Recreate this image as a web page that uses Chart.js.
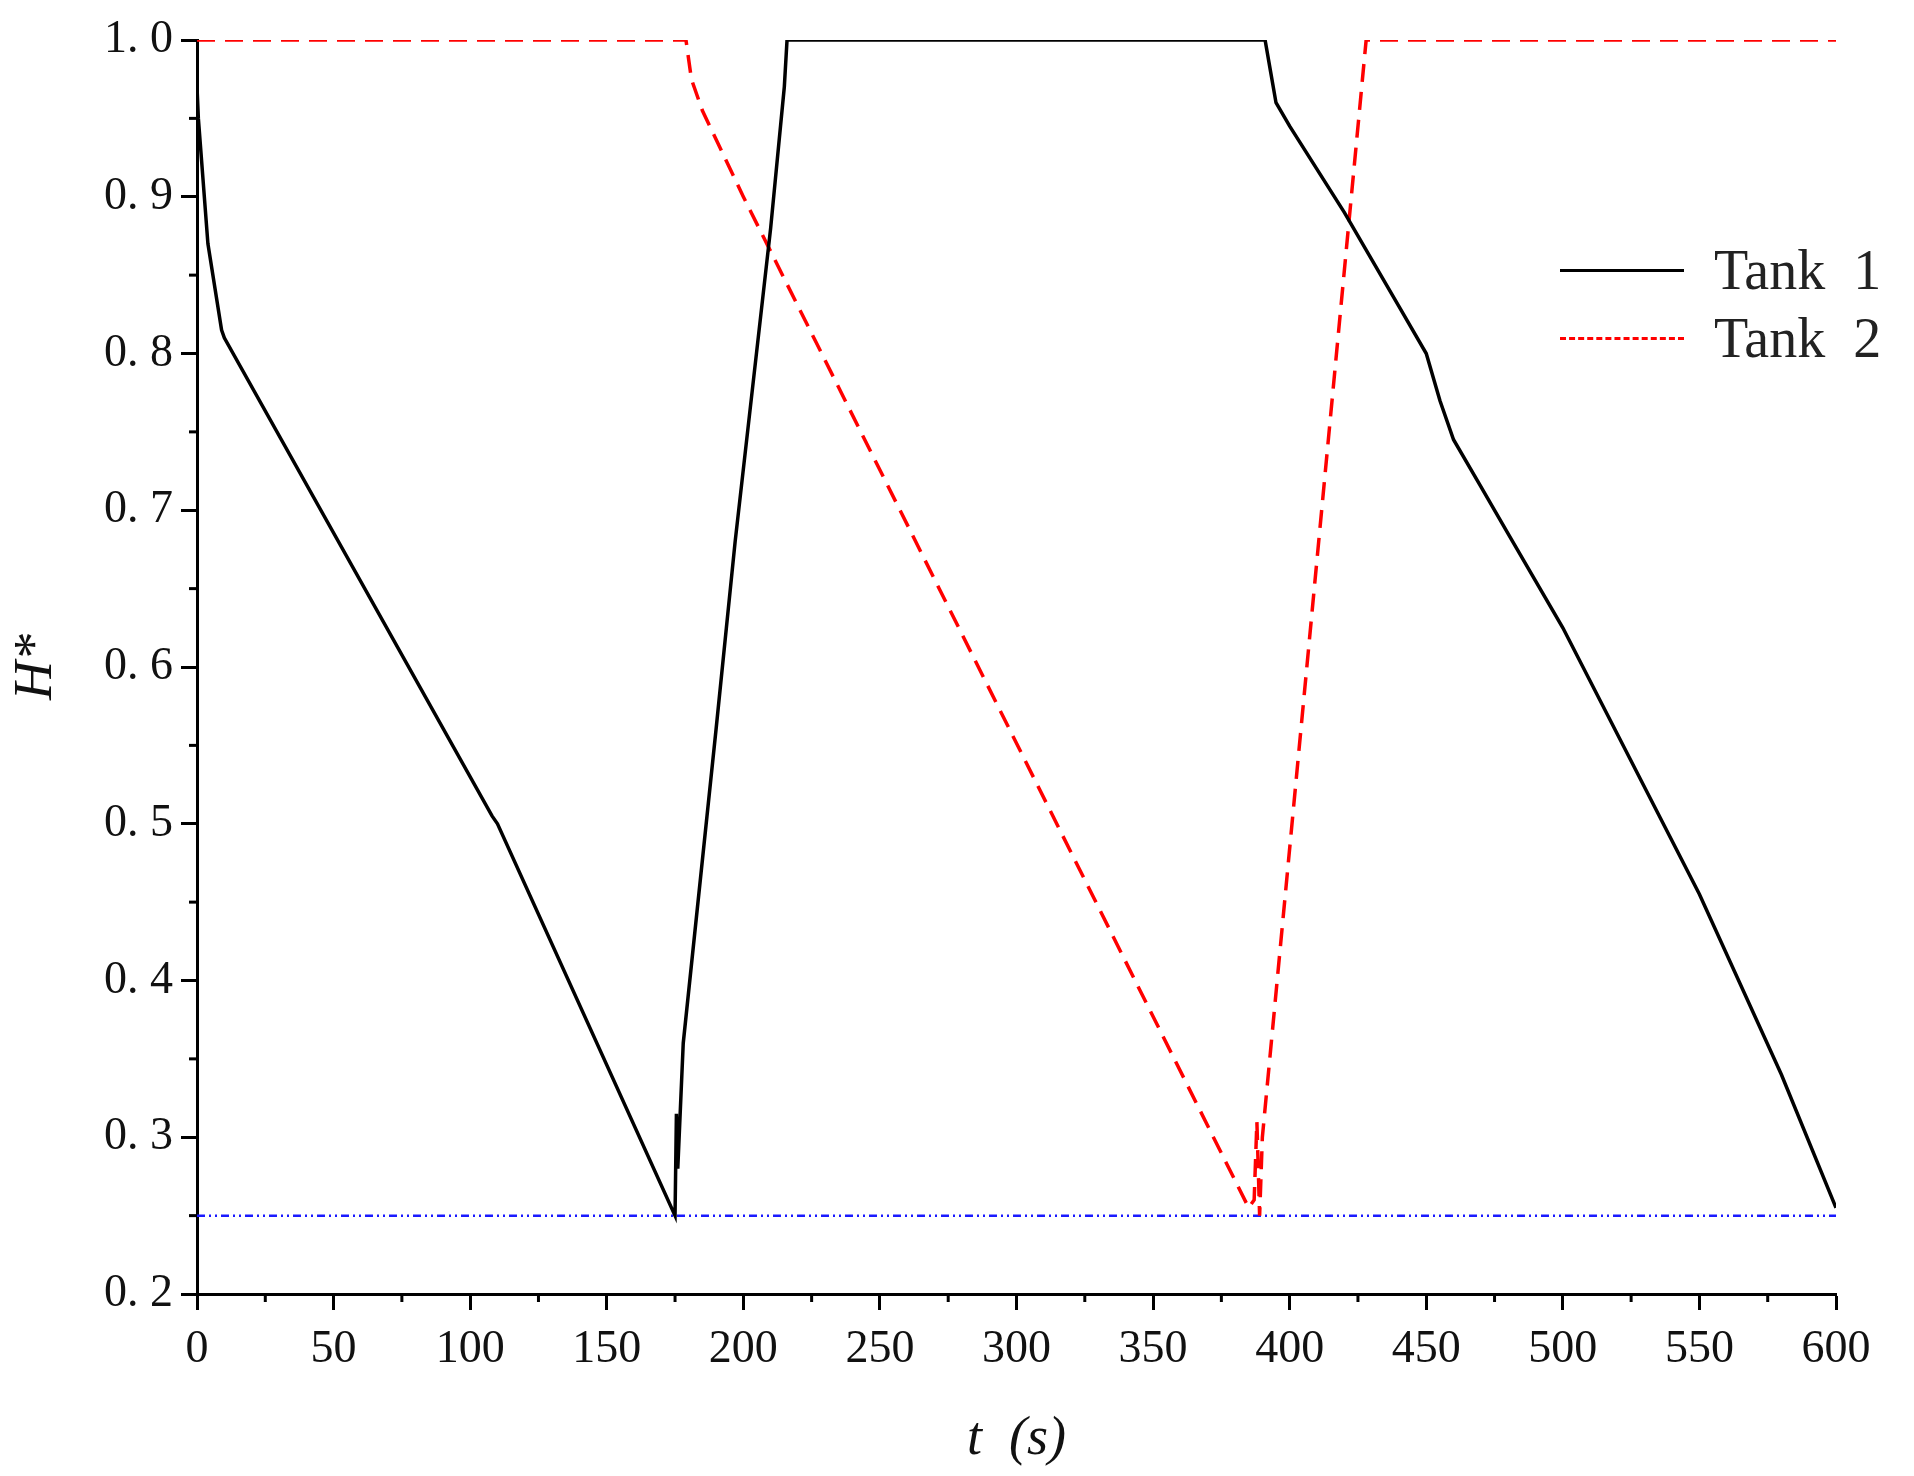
<!DOCTYPE html>
<html><head><meta charset="utf-8">
<script src="https://cdn.jsdelivr.net/npm/chart.js@4/dist/chart.umd.min.js"></script>
<style>
body{margin:0;background:#fff;}
#wrap{position:relative;width:1914px;height:1476px;}
#legend{position:absolute;left:1560px;top:236px;font-family:"Liberation Serif",serif;font-size:56px;color:#222;}
.row{display:flex;align-items:center;height:68px;}
.sw{width:124px;height:0;margin-right:30px;}
</style></head>
<body>
<div id="wrap"><canvas id="c" width="1914" height="1476"></canvas>
<div id="legend">
  <div class="row"><span class="sw" style="border-top:3px solid #000"></span>Tank&nbsp;&nbsp;1</div>
  <div class="row"><span class="sw" style="border-top:3px dashed #f00"></span>Tank&nbsp;&nbsp;2</div>
</div></div>
<script>
const tank1T = [0,0.5,4,9,10,108,110,175,175.5,176,178,190,197,210,215,216,391,393,395,400,420,440,450,455,460,470,480,500,550,580,600];
const tank1H = [0.97,0.95,0.87,0.815,0.81,0.505,0.5,0.25,0.315,0.28,0.36,0.56,0.68,0.88,0.97,1.0,1.0,0.98,0.96,0.945,0.89,0.83,0.8,0.77,0.745,0.715,0.685,0.625,0.455,0.34,0.255];
const tank2T = [0,179,181,185,200,385,387,388,389,390,428,600];
const tank2H = [1,1,0.975,0.955,0.9,0.255,0.26,0.31,0.25,0.3,1.0,1.0];
const limitT = [0,600];
const limitH = [0.25,0.25];
const xTicks = [0,50,100,150,200,250,300,350,400,450,500,550,600];
const yTicks = [0.2,0.3,0.4,0.5,0.6,0.7,0.8,0.9,1.0];

const pts = (t,h) => t.map((v,i) => ({x:v, y:h[i]}));
const font = {family:'"Liberation Serif", serif', size:46};

const minorTicks = {
  id:'minorTicks',
  afterDraw(chart){
    const ctx = chart.ctx, xs = chart.scales.x, ys = chart.scales.y;
    ctx.save(); ctx.strokeStyle = '#000'; ctx.lineWidth = 3;
    for (let v = 25; v < 600; v += 50) {
      const px = xs.getPixelForValue(v);
      ctx.beginPath(); ctx.moveTo(px, ys.bottom); ctx.lineTo(px, ys.bottom + 8); ctx.stroke();
    }
    for (let v = 0.25; v < 1.0; v += 0.1) {
      const py = ys.getPixelForValue(v);
      ctx.beginPath(); ctx.moveTo(xs.left, py); ctx.lineTo(xs.left - 8, py); ctx.stroke();
    }
    ctx.restore();
  }
};

new Chart(document.getElementById('c'), {
  type:'line',
  data:{datasets:[
    {label:'Tank 1', data:pts(tank1T,tank1H), borderColor:'#000', borderWidth:3.5, pointRadius:0, tension:0},
    {label:'Tank 2', data:pts(tank2T,tank2H), borderColor:'#f00', borderWidth:3.5, borderDash:[18,10], pointRadius:0, tension:0},
    {label:'limit', data:pts(limitT,limitH), borderColor:'#1a1aff', borderWidth:2.5, borderDash:[8,4,2,4,2,4], pointRadius:0}
  ]},
  options:{
    responsive:false, animation:false,
    layout:{padding:{top:40,right:78,left:0,bottom:0}},
    plugins:{legend:{display:false}, tooltip:{enabled:false}},
    scales:{
      x:{type:'linear', min:0, max:600,
        afterBuildTicks:s => { s.ticks = xTicks.map(v => ({value:v})); },
        afterFit:s => { s.height = 182; },
        border:{color:'#000', width:3},
        grid:{drawOnChartArea:false, drawTicks:true, tickLength:16, tickColor:'#000', tickWidth:3},
        ticks:{font:font, color:'#111', padding:12, maxRotation:0},
        title:{display:true, text:'t  (s)', font:{family:'"Liberation Serif", serif', size:54, style:'italic'}, color:'#111', padding:{top:0}}
      },
      y:{type:'linear', min:0.2, max:1.0,
        afterBuildTicks:s => { s.ticks = yTicks.map(v => ({value:v})); },
        afterFit:s => { s.width = 197; },
        border:{color:'#000', width:3},
        grid:{drawOnChartArea:false, drawTicks:true, tickLength:16, tickColor:'#000', tickWidth:3},
        ticks:{font:font, color:'#111', padding:8, callback:v => v.toFixed(1).replace('.', '. ')},
        title:{display:true, text:'H*', font:{family:'"Liberation Serif", serif', size:54, style:'italic'}, color:'#111', padding:{bottom:0}}
      }
    }
  },
  plugins:[minorTicks]
});
</script>
</body></html>
